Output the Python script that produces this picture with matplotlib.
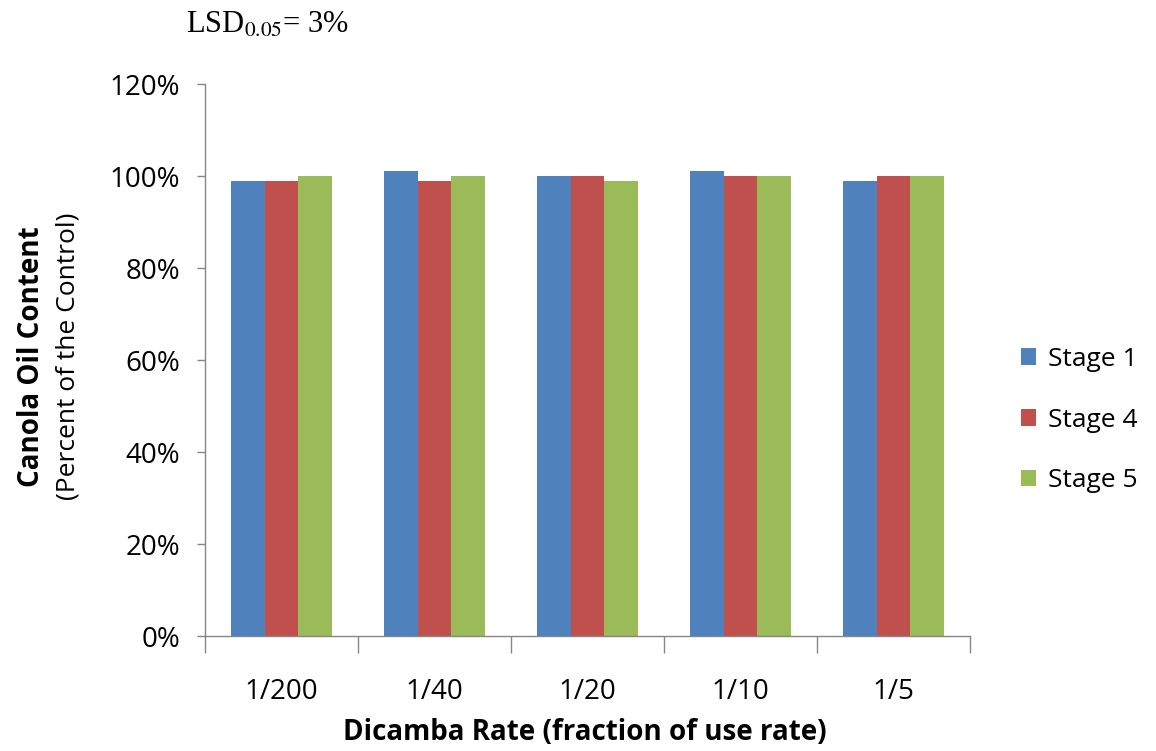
import matplotlib
matplotlib.use("Agg")
import matplotlib.pyplot as plt
import numpy as np

# Oil content relative to untreated control, by dicamba rate and growth stage
rates = ["1/200", "1/40", "1/20", "1/10", "1/5"]
stage1 = [0.99, 1.01, 1.00, 1.01, 0.99]
stage4 = [0.99, 0.99, 1.00, 1.00, 1.00]
stage5 = [1.00, 1.00, 0.99, 1.00, 1.00]
series_names = ["Stage 1", "Stage 4", "Stage 5"]
colors = ["#4F81BD", "#C0504D", "#9BBB59"]

plt.rcParams["font.family"] = ["Open Sans", "DejaVu Sans"]

fig = plt.figure(figsize=(11.56, 7.51), dpi=100)
ax = fig.add_axes([0.1773, 0.1531, 0.8391 - 0.1773, 0.8881 - 0.1531])

x = np.arange(len(rates))
w = 0.22
for i, (vals, name, c) in enumerate(zip([stage1, stage4, stage5], series_names, colors)):
    ax.bar(x + (i - 1) * w, vals, width=w, color=c, label=name, zorder=2)

ax.set_xlim(-0.5, len(rates) - 0.5)
ax.set_ylim(0, 1.2)
ax.set_yticks(np.arange(0, 1.21, 0.2))
ax.set_yticklabels([f"{int(round(v * 100))}%" for v in np.arange(0, 1.21, 0.2)], fontsize=20)

# category labels centered, tick marks on group boundaries
ax.set_xticks(np.arange(-0.5, len(rates)), minor=False)
ax.set_xticklabels([])
ax.set_xticks(x, minor=True)
ax.set_xticklabels(rates, minor=True, fontsize=20)
ax.tick_params(axis="x", which="minor", length=0, pad=30)
ax.tick_params(axis="x", which="major", length=12, color="#868686", width=1)
ax.tick_params(axis="y", length=6, color="#868686", width=1, pad=12)

for side in ["top", "right"]:
    ax.spines[side].set_visible(False)
for side in ["left", "bottom"]:
    ax.spines[side].set_color("#868686")
    ax.spines[side].set_linewidth(1)

fig.text(0.506, 0.024, "Dicamba Rate (fraction of use rate)", fontsize=20, fontweight="bold",
         ha="center", va="center")

fig.text(0.027, 0.525, "Canola Oil Content", rotation=90, fontsize=20, fontweight="bold",
         ha="center", va="center")
fig.text(0.059, 0.525, "(Percent of the Control)", rotation=90, fontsize=19,
         ha="center", va="center")

fig.text(0.161, 0.966, r"LSD$_{0.05}$= 3%", fontsize=22, family=["Liberation Serif"],
         ha="left", va="center", math_fontfamily="stix")

leg = ax.legend(loc="center left", bbox_to_anchor=(1.035, 0.391), frameon=False, fontsize=19,
                handlelength=0.6, handleheight=0.6, handletextpad=0.45, labelspacing=1.35)

fig.savefig("out.png", dpi=100)
